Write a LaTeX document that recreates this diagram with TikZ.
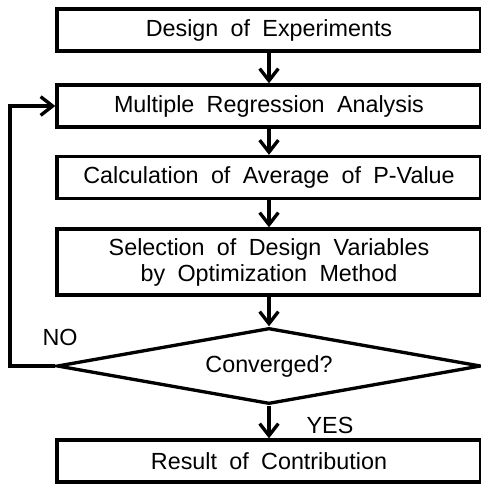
\documentclass[tikz,border=0pt]{standalone}
\usepackage{fontspec}
\setmainfont{Liberation Sans}[WordSpace=1.9]
\usetikzlibrary{arrows.meta,shapes.geometric}

\tikzset{every picture/.style={line width=2.5pt}}
\tikzset{
  procbox/.style={draw, rectangle, minimum width=318pt, minimum height=31.5pt, inner sep=0pt, align=center, font=\fontsize{17.5}{19.5}\selectfont},
  decbox/.style={draw, diamond, aspect=5.58, minimum width=318pt, minimum height=57pt, inner sep=0pt, font=\fontsize{17.5}{19.5}\selectfont},
  lbl/.style={inner sep=0pt, font=\fontsize{17.5}{19.5}\selectfont},
  flow/.style={-{Straight Barb[length=9pt,width=14pt]}},
}

\begin{document}
\begin{tikzpicture}[x=0.75pt,y=0.75pt,yscale=-1,xscale=1]
\useasboundingbox (0,0) rectangle (480,484); %set diagram size 480 x 484

%Shape: Rectangle [id:doe] 
\node (doe) [procbox] at (269,30) {Design of Experiments};
%Shape: Rectangle [id:mra] 
\node (mra) [procbox] at (269,106) {Multiple Regression Analysis};
%Shape: Rectangle [id:avg] 
\node (avg) [procbox] at (269,177.5) {Calculation of Average of P-Value};
%Shape: Rectangle [id:sel] 
\node (sel) [procbox, minimum height=49.5pt] at (269,262) {Selection of Design Variables\\by Optimization Method};
%Shape: Diamond [id:conv] 
\node (conv) [decbox] at (269,366) {Converged?};
%Shape: Rectangle [id:res] 
\node (res) [procbox, minimum height=31.5pt] at (269,461) {Result of Contribution};

%Straight Lines
\draw [flow] (doe) -- (mra);
\draw [flow] (mra) -- (avg);
\draw [flow] (avg) -- (sel);
\draw [flow] (sel) -- (conv);
\draw [flow] (conv) -- (res);

%Loop back
\coordinate (back) at (10,366);
\draw [flow] (conv.west) -- (back) |- (mra.west);

% Text Node
\node (no) [lbl] at (60,337) {NO};
% Text Node
\node (yes) [lbl] at (330,425) {YES};

\end{tikzpicture}
\end{document}
